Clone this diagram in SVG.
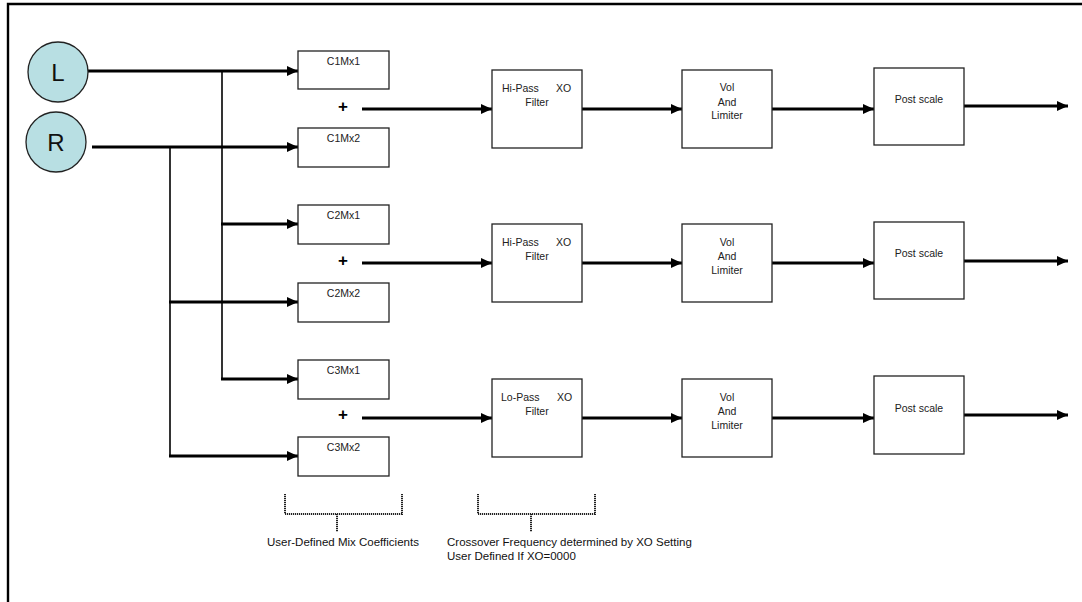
<svg xmlns="http://www.w3.org/2000/svg" width="1082" height="602" viewBox="0 0 1082 602">
<style>
.box{fill:#fff;stroke:#222;stroke-width:1.3}
.t{font-family:"Liberation Sans",Arial,sans-serif;font-size:10.5px;fill:#222}
.tc{text-anchor:middle}
.c{stroke:#000;stroke-width:3;fill:none}
.v{stroke:#000;stroke-width:1.6;fill:none}
.a{stroke:#000;stroke-width:3;fill:none;marker-end:url(#ah)}
.br{stroke:#222;stroke-width:2;fill:none;stroke-dasharray:1.2 0.8}
.lbl{font-family:"Liberation Sans",Arial,sans-serif;font-size:11.5px;fill:#111}
.plus{font-family:"Liberation Sans",Arial,sans-serif;font-size:17px;font-weight:bold;fill:#000;text-anchor:middle}
.circ{fill:#b8dfe3;stroke:#222;stroke-width:1.3}
.big{font-family:"Liberation Sans",Arial,sans-serif;font-size:24px;fill:#111;text-anchor:middle}
</style>
<defs>
<marker id="ah" viewBox="0 0 11 10" refX="11" refY="5" markerWidth="11" markerHeight="10" markerUnits="userSpaceOnUse" orient="auto">
<path d="M0,0 L11,5 L0,10 Z" fill="#000"/>
</marker>
</defs>
<rect width="1082" height="602" fill="#fff"/>
<g id="frame">
<path d="M8,602 V4 H1082" stroke="#000" stroke-width="2.4" fill="none"/>
</g>
<g id="connectors">
<path class="c" d="M88,71 H222"/>
<path class="a" d="M222,71 H298"/>
<path class="c" d="M92,147 H170"/>
<path class="a" d="M170,147 H298"/>
<path class="v" d="M222,70 V380"/>
<path class="v" d="M170,147 V457"/>
<path class="a" d="M221,224 H298"/>
<path class="a" d="M169,302 H298"/>
<path class="a" d="M221,379 H298"/>
<path class="a" d="M169,456 H298"/>
<path class="a" d="M362,109 H492"/>
<path class="a" d="M362,263 H492"/>
<path class="a" d="M362,418 H492"/>
<path class="a" d="M582,109 H682"/>
<path class="a" d="M582,263 H682"/>
<path class="a" d="M582,418 H682"/>
<path class="a" d="M772,109 H874"/>
<path class="a" d="M772,263 H874"/>
<path class="a" d="M772,418 H874"/>
<path class="a" d="M964,106 H1068"/>
<path class="a" d="M964,261 H1068"/>
<path class="a" d="M964,415 H1068"/>
</g>
<g id="L"><circle class="circ" cx="58" cy="72" r="30"/><text class="big" x="58" y="80.5">L</text></g>
<g id="R"><circle class="circ" cx="56" cy="142" r="30"/><text class="big" x="56" y="150.5">R</text></g>
<g id="C1Mx1"><rect class="box" x="298" y="51" width="91" height="38"/><text class="t tc" x="343.5" y="65">C1Mx1</text></g>
<g id="C1Mx2"><rect class="box" x="298" y="128" width="91" height="39"/><text class="t tc" x="343.5" y="142">C1Mx2</text></g>
<g id="C2Mx1"><rect class="box" x="298" y="205" width="91" height="39"/><text class="t tc" x="343.5" y="219">C2Mx1</text></g>
<g id="C2Mx2"><rect class="box" x="298" y="283" width="91" height="39"/><text class="t tc" x="343.5" y="297">C2Mx2</text></g>
<g id="C3Mx1"><rect class="box" x="298" y="360" width="91" height="39"/><text class="t tc" x="343.5" y="374">C3Mx1</text></g>
<g id="C3Mx2"><rect class="box" x="298" y="437" width="91" height="39"/><text class="t tc" x="343.5" y="451">C3Mx2</text></g>
<g id="plus1"><text class="plus" x="343" y="112">+</text></g>
<g id="plus2"><text class="plus" x="343" y="266">+</text></g>
<g id="plus3"><text class="plus" x="343" y="420">+</text></g>
<g id="HP1"><rect class="box" x="492" y="70" width="90" height="78"/><text class="t" x="502" y="92">Hi-Pass</text><text class="t" x="556" y="92">XO</text><text class="t tc" x="537" y="106">Filter</text></g>
<g id="HP2"><rect class="box" x="492" y="224" width="90" height="78"/><text class="t" x="502" y="246">Hi-Pass</text><text class="t" x="556" y="246">XO</text><text class="t tc" x="537" y="260">Filter</text></g>
<g id="LP3"><rect class="box" x="492" y="379" width="90" height="78"/><text class="t" x="501" y="401">Lo-Pass</text><text class="t" x="557" y="401">XO</text><text class="t tc" x="537" y="415">Filter</text></g>
<g id="VOL1"><rect class="box" x="682" y="70" width="90" height="78"/><text class="t tc" x="727" y="91">Vol</text><text class="t tc" x="727" y="106">And</text><text class="t tc" x="727" y="119">Limiter</text></g>
<g id="VOL2"><rect class="box" x="682" y="224" width="90" height="78"/><text class="t tc" x="727" y="246">Vol</text><text class="t tc" x="727" y="260">And</text><text class="t tc" x="727" y="274">Limiter</text></g>
<g id="VOL3"><rect class="box" x="682" y="379" width="90" height="78"/><text class="t tc" x="727" y="401">Vol</text><text class="t tc" x="727" y="415">And</text><text class="t tc" x="727" y="429">Limiter</text></g>
<g id="PS1"><rect class="box" x="874" y="68" width="90" height="77"/><text class="t tc" x="919" y="103">Post scale</text></g>
<g id="PS2"><rect class="box" x="874" y="222" width="90" height="77"/><text class="t tc" x="919" y="257">Post scale</text></g>
<g id="PS3"><rect class="box" x="874" y="376" width="90" height="78"/><text class="t tc" x="919" y="412">Post scale</text></g>
<g id="bracket1"><path class="br" d="M285,494 V514 H402 V494 M337,514 V532"/><text class="lbl" x="267" y="546">User-Defined Mix Coefficients</text></g>
<g id="bracket2"><path class="br" d="M478,494 V514 H595 V494 M531,514 V532"/><text class="lbl" x="447" y="546">Crossover Frequency determined by XO Setting</text><text class="lbl" x="447" y="560">User Defined If XO=0000</text></g>
</svg>
